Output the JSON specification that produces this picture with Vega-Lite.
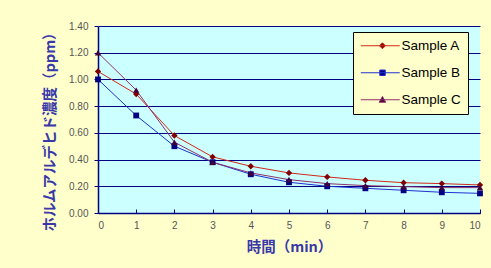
{
  "$schema": "https://vega.github.io/schema/vega-lite/v6.json",
  "width": 382,
  "height": 187,
  "autosize": "none",
  "padding": {"left": 98, "top": 26, "right": 11, "bottom": 55},
  "background": "#FFFFCC",
  "config": {
    "view": {"fill": "#CCFFFF", "stroke": null},
    "font": "Liberation Sans"
  },
  "data": {
    "values": [
      {"series": "Sample A", "t": 0, "v": 1.06},
      {"series": "Sample A", "t": 1, "v": 0.89},
      {"series": "Sample A", "t": 2, "v": 0.58},
      {"series": "Sample A", "t": 3, "v": 0.42},
      {"series": "Sample A", "t": 4, "v": 0.35},
      {"series": "Sample A", "t": 5, "v": 0.30},
      {"series": "Sample A", "t": 6, "v": 0.27},
      {"series": "Sample A", "t": 7, "v": 0.245},
      {"series": "Sample A", "t": 8, "v": 0.227},
      {"series": "Sample A", "t": 9, "v": 0.22},
      {"series": "Sample A", "t": 10, "v": 0.21},
      {"series": "Sample B", "t": 0, "v": 1.00},
      {"series": "Sample B", "t": 1, "v": 0.73},
      {"series": "Sample B", "t": 2, "v": 0.50},
      {"series": "Sample B", "t": 3, "v": 0.38},
      {"series": "Sample B", "t": 4, "v": 0.29},
      {"series": "Sample B", "t": 5, "v": 0.23},
      {"series": "Sample B", "t": 6, "v": 0.20},
      {"series": "Sample B", "t": 7, "v": 0.185},
      {"series": "Sample B", "t": 8, "v": 0.17},
      {"series": "Sample B", "t": 9, "v": 0.155},
      {"series": "Sample B", "t": 10, "v": 0.147},
      {"series": "Sample C", "t": 0, "v": 1.20},
      {"series": "Sample C", "t": 1, "v": 0.92},
      {"series": "Sample C", "t": 2, "v": 0.53},
      {"series": "Sample C", "t": 3, "v": 0.38},
      {"series": "Sample C", "t": 4, "v": 0.30},
      {"series": "Sample C", "t": 5, "v": 0.25},
      {"series": "Sample C", "t": 6, "v": 0.22},
      {"series": "Sample C", "t": 7, "v": 0.205},
      {"series": "Sample C", "t": 8, "v": 0.197},
      {"series": "Sample C", "t": 9, "v": 0.19},
      {"series": "Sample C", "t": 10, "v": 0.19}
    ]
  },
  "encoding": {
    "x": {
      "field": "t",
      "type": "quantitative",
      "scale": {"domain": [0, 10], "nice": false, "zero": false},
      "axis": {
        "title": "時間（min）",
        "titleFont": "Noto Sans CJK JP",
        "titleFontSize": 14.5,
        "titleFontWeight": "bold",
        "titleColor": "#3838A8",
        "titlePadding": 10,
        "values": [0, 1, 2, 3, 4, 5, 6, 7, 8, 9, 10],
        "format": "d",
        "grid": false,
        "domainColor": "#000080",
        "domainWidth": 1.5,
        "tickColor": "#000080",
        "tickSize": -4,
        "labelPadding": 11,
        "labelColor": "#555555",
        "labelFontSize": 10
      }
    },
    "y": {
      "field": "v",
      "type": "quantitative",
      "scale": {"domain": [0, 1.4], "nice": false},
      "axis": {
        "title": "ホルムアルデヒド濃度（ppm）",
        "titleFont": "Noto Sans CJK JP",
        "titleFontSize": 14.5,
        "titleFontWeight": "bold",
        "titleColor": "#3838A8",
        "titlePadding": 11,
        "titleY": 102,
        "values": [0, 0.2, 0.4, 0.6, 0.8, 1.0, 1.2, 1.4],
        "format": ".2f",
        "grid": true,
        "gridColor": "#000080",
        "gridWidth": 1.2,
        "domainColor": "#000080",
        "domainWidth": 1.5,
        "tickColor": "#000080",
        "tickSize": 4,
        "labelPadding": 6,
        "labelColor": "#555555",
        "labelFontSize": 10
      }
    }
  },
  "layer": [
    {
      "mark": {"type": "point", "filled": true, "size": 100, "opacity": 0},
      "encoding": {
        "shape": {
          "field": "series",
          "type": "nominal",
          "scale": {
            "domain": ["Sample A", "Sample B", "Sample C"],
            "range": [
              "M-1.2,0H6.6M3.14,-0.6L3.74,0L3.14,0.6L2.54,0Z",
              "M-1.2,0H6.6M2.6,-0.55H3.7V0.55H2.6Z",
              "M-1.2,0H6.6M3.14,-0.65L3.8,0.5H2.48Z"
            ]
          },
          "legend": {
            "title": null,
            "orient": "none",
            "legendX": 255,
            "legendY": 6,
            "fillColor": "#FFFFCC",
            "strokeColor": "#000000",
            "padding": 7,
            "symbolSize": 100,
            "symbolOpacity": 1,
            "symbolStrokeWidth": 1,
            "rowPadding": 12,
            "labelOffset": 28,
            "labelFontSize": 13.5,
            "labelColor": "#000000",
            "labelFont": "Liberation Sans"
          }
        },
        "fill": {
          "field": "series",
          "type": "nominal",
          "scale": {"domain": ["Sample A", "Sample B", "Sample C"], "range": ["#800000", "#000080", "#400038"]}
        },
        "stroke": {
          "field": "series",
          "type": "nominal",
          "scale": {"domain": ["Sample A", "Sample B", "Sample C"], "range": ["#D02818", "#2030D0", "#903068"]}
        }
      }
    },
    {
      "mark": {"type": "line", "strokeWidth": 1},
      "encoding": {
        "stroke": {"field": "series", "type": "nominal"}
      }
    },
    {
      "transform": [{"filter": "datum.series === 'Sample A'"}],
      "mark": {"type": "point", "filled": true, "size": 40, "opacity": 1, "shape": "diamond", "color": "#800000"}
    },
    {
      "transform": [{"filter": "datum.series === 'Sample B'"}],
      "mark": {"type": "point", "filled": true, "size": 34, "opacity": 1, "shape": "square", "color": "#000080"}
    },
    {
      "transform": [{"filter": "datum.series === 'Sample C'"}],
      "mark": {"type": "point", "filled": true, "size": 40, "opacity": 1, "shape": "triangle-up", "color": "#400038"}
    }
  ]
}
